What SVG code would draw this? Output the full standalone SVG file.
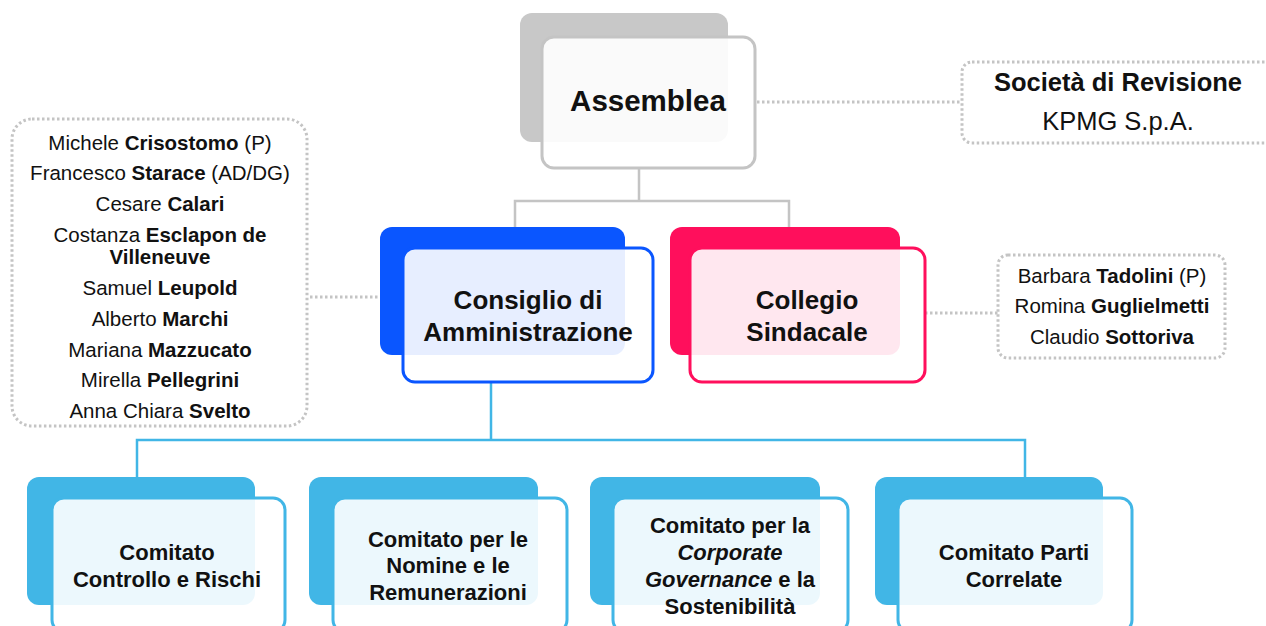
<svg xmlns="http://www.w3.org/2000/svg" width="1266" height="626" viewBox="0 0 1266 626">
<style>
text{font-family:"Liberation Sans",Arial,sans-serif;fill:#111;text-anchor:middle}
.b{font-weight:bold}
.t{font-size:26px;font-weight:bold}
.c{font-size:22px;font-weight:bold}
.m{font-size:20.5px}
.dot{fill:none;stroke:#c4c4c4;stroke-width:3;stroke-dasharray:2.5 2.5}
.front{stroke-width:3}
</style>
<rect width="1266" height="626" fill="#fff"/>
<g id="connectors" fill="none">
<path d="M639 168V201M515 227V201H789V227" stroke="#c4c4c4" stroke-width="2.5"/>
<path d="M491 382V440M137 477V440H1025V477" stroke="#41b6e6" stroke-width="2.5"/>
<path d="M310 297H382M757 102H962M925 313H998" class="dot"/>
</g>
<g id="assemblea">
<rect x="520" y="13" width="208" height="129" rx="12" fill="#c8c8c8"/>
<rect x="542" y="37" width="213" height="131" rx="12" class="front" fill="#fff" fill-opacity="0.9" stroke="#c4c4c4"/>
<text x="648" y="111" class="b" font-size="29.5">Assemblea</text>
</g>
<g id="cda">
<rect x="380" y="227" width="245" height="128" rx="12" fill="#0a56ff"/>
<rect x="403" y="248" width="250" height="134" rx="12" class="front" fill="#fff" fill-opacity="0.9" stroke="#0a56ff"/>
<text x="528" y="309" class="t">Consiglio di</text>
<text x="528" y="341" class="t">Amministrazione</text>
</g>
<g id="collegio">
<rect x="670" y="227" width="230" height="128" rx="12" fill="#ff0f5c"/>
<rect x="690" y="248" width="235" height="134" rx="12" class="front" fill="#fff" fill-opacity="0.9" stroke="#ff0f5c"/>
<text x="807" y="309" class="t">Collegio</text>
<text x="807" y="341" class="t">Sindacale</text>
</g>
<g id="cda-members">
<rect x="12" y="119" width="295" height="307" rx="20" class="dot"/>
<g class="m">
<text x="160" y="150">Michele <tspan class="b">Crisostomo</tspan> (P)</text>
<text x="160" y="180">Francesco <tspan class="b">Starace</tspan> (AD/DG)</text>
<text x="160" y="211">Cesare <tspan class="b">Calari</tspan></text>
<text x="160" y="242">Costanza <tspan class="b">Esclapon de</tspan></text>
<text x="160" y="264" class="b">Villeneuve</text>
<text x="160" y="295">Samuel <tspan class="b">Leupold</tspan></text>
<text x="160" y="326">Alberto <tspan class="b">Marchi</tspan></text>
<text x="160" y="357">Mariana <tspan class="b">Mazzucato</tspan></text>
<text x="160" y="387">Mirella <tspan class="b">Pellegrini</tspan></text>
<text x="160" y="418">Anna Chiara <tspan class="b">Svelto</tspan></text>
</g>
</g>
<g id="revisione">
<rect x="962" y="62" width="320" height="81" rx="10" class="dot"/>
<text x="1118" y="91" class="b" font-size="25.5">Società di Revisione</text>
<text x="1118" y="130" font-size="25.5">KPMG S.p.A.</text>
</g>
<g id="collegio-members">
<rect x="998" y="255" width="227" height="103" rx="10" class="dot"/>
<g class="m">
<text x="1112" y="283">Barbara <tspan class="b">Tadolini</tspan> (P)</text>
<text x="1112" y="313">Romina <tspan class="b">Guglielmetti</tspan></text>
<text x="1112" y="344">Claudio <tspan class="b">Sottoriva</tspan></text>
</g>
</g>
<g id="comitato-controllo">
<rect x="27" y="477" width="228" height="128" rx="12" fill="#41b6e6"/>
<rect x="52" y="498" width="233" height="134" rx="12" class="front" fill="#fff" fill-opacity="0.9" stroke="#41b6e6"/>
<text x="167" y="560" class="c">Comitato</text>
<text x="167" y="587" class="c">Controllo e Rischi</text>
</g>
<g id="comitato-nomine">
<rect x="309" y="477" width="229" height="128" rx="12" fill="#41b6e6"/>
<rect x="333" y="498" width="234" height="134" rx="12" class="front" fill="#fff" fill-opacity="0.9" stroke="#41b6e6"/>
<text x="448" y="547" class="c">Comitato per le</text>
<text x="448" y="573" class="c">Nomine e le</text>
<text x="448" y="600" class="c">Remunerazioni</text>
</g>
<g id="comitato-governance">
<rect x="590" y="477" width="230" height="128" rx="12" fill="#41b6e6"/>
<rect x="613" y="498" width="235" height="134" rx="12" class="front" fill="#fff" fill-opacity="0.9" stroke="#41b6e6"/>
<text x="730" y="533" class="c">Comitato per la</text>
<text x="730" y="560" class="c" font-style="italic">Corporate</text>
<text x="730" y="587" class="c"><tspan font-style="italic">Governance</tspan> e la</text>
<text x="730" y="614" class="c">Sostenibilità</text>
</g>
<g id="comitato-parti">
<rect x="875" y="477" width="228" height="128" rx="12" fill="#41b6e6"/>
<rect x="898" y="498" width="234" height="134" rx="12" class="front" fill="#fff" fill-opacity="0.9" stroke="#41b6e6"/>
<text x="1014" y="560" class="c">Comitato Parti</text>
<text x="1014" y="587" class="c">Correlate</text>
</g>
</svg>
